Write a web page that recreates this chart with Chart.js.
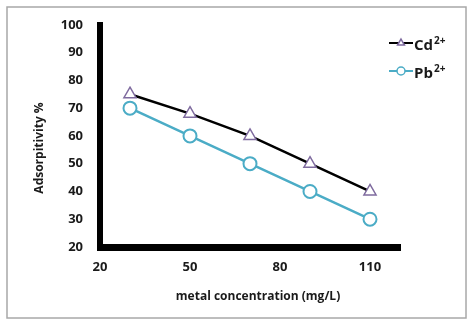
<!DOCTYPE html>
<html>
<head>
<meta charset="utf-8">
<script src="https://cdn.jsdelivr.net/npm/chart.js@4"></script>
<style>
  html, body { margin: 0; padding: 0; background: #ffffff; }
  #wrap { width: 474px; height: 329px; }
</style>
</head>
<body>
<div id="wrap"><canvas id="c" width="474" height="329"></canvas></div>
<script>
// ---- data ----
const concentrations = [30, 50, 70, 90, 110];
const cdValues = [75, 68, 60, 50, 40];
const pbValues = [70, 60, 50, 40, 30];
const seriesNames = ['Cd', 'Pb'];
const seriesCharges = ['2+', '2+'];
const xTickValues = [20, 50, 80, 110];
const yTickValues = [20, 30, 40, 50, 60, 70, 80, 90, 100];
const xTitle = 'metal concentration (mg/L)';
const yTitle = 'Adsorpitivity %';

const FONT = '"Open Sans", Lato, sans-serif';
const TEXT = '#1a1a1a';
const PURPLE = '#7f6b9f';
const AQUA = '#4BACC6';

const toPoints = (vals) => concentrations.map((x, i) => ({ x: x, y: vals[i] }));

const decorPlugin = {
  id: 'decor',
  beforeDraw(chart) {
    const ctx = chart.ctx;
    ctx.save();
    ctx.fillStyle = '#ffffff';
    ctx.fillRect(0, 0, chart.width, chart.height);
    ctx.strokeStyle = '#a8a8a8';
    ctx.lineWidth = 1.5;
    ctx.strokeRect(7, 7, 459, 311);
    ctx.restore();
  },
  afterDraw(chart) {
    const ctx = chart.ctx;
    ctx.save();
    ctx.fillStyle = TEXT;
    ctx.font = 'bold 12px ' + FONT;
    ctx.textAlign = 'center';
    ctx.textBaseline = 'middle';
    ctx.fillText(xTitle, 258, 297);
    ctx.translate(40, 148);
    ctx.rotate(-Math.PI / 2);
    ctx.fillText(yTitle, 0, 0);
    ctx.restore();

    // legend
    const rows = [43, 71];
    chart.data.datasets.forEach((ds, i) => {
      const y = rows[i];
      ctx.save();
      ctx.strokeStyle = ds.borderColor;
      ctx.lineWidth = 2;
      ctx.beginPath();
      ctx.moveTo(389, y);
      ctx.lineTo(413, y);
      ctx.stroke();
      ctx.fillStyle = '#ffffff';
      ctx.strokeStyle = ds.pointBorderColor;
      ctx.lineWidth = 1.5;
      Chart.helpers.drawPoint(ctx, { pointStyle: ds.pointStyle, radius: 4, rotation: 0, borderWidth: 1.5 }, 401, y);
      ctx.restore();

      ctx.save();
      ctx.fillStyle = TEXT;
      ctx.textBaseline = 'alphabetic';
      ctx.textAlign = 'left';
      ctx.font = 'bold 15px ' + FONT;
      const base = seriesNames[i];
      ctx.fillText(base, 414, y + 7);
      const w = ctx.measureText(base).width;
      ctx.font = 'bold 10px ' + FONT;
      ctx.fillText(seriesCharges[i], 414 + w + 1, y + 1);
      ctx.restore();
    });
  }
};

new Chart(document.getElementById('c'), {
  type: 'line',
  data: {
    datasets: [
      {
        label: 'Cd²⁺',
        data: toPoints(cdValues),
        borderColor: '#000000',
        borderWidth: 2.5,
        pointStyle: 'triangle',
        pointRadius: 7,
        pointBorderColor: PURPLE,
        pointBackgroundColor: '#ffffff',
        pointBorderWidth: 1.5,
        tension: 0
      },
      {
        label: 'Pb²⁺',
        data: toPoints(pbValues),
        borderColor: AQUA,
        borderWidth: 2.5,
        pointStyle: 'circle',
        pointRadius: 6.5,
        pointBorderColor: AQUA,
        pointBackgroundColor: '#ffffff',
        pointBorderWidth: 2,
        tension: 0
      }
    ]
  },
  options: {
    responsive: false,
    animation: false,
    devicePixelRatio: 1,
    layout: { padding: { top: 18, right: 74, left: 0, bottom: 0 } },
    plugins: { legend: { display: false }, tooltip: { enabled: false } },
    scales: {
      x: {
        type: 'linear',
        min: 20,
        max: 120,
        afterBuildTicks: (s) => { s.ticks = xTickValues.map(v => ({ value: v })); },
        afterFit: (s) => { s.height = 82; },
        grid: { display: false, drawTicks: false },
        border: { display: true, color: '#000000', width: 7 },
        ticks: { color: TEXT, font: { family: FONT, size: 13, weight: 'bold' }, padding: 12, maxRotation: 0 }
      },
      y: {
        type: 'linear',
        min: 20,
        max: 100,
        afterBuildTicks: (s) => { s.ticks = yTickValues.map(v => ({ value: v })); },
        afterFit: (s) => { s.width = 100; },
        grid: { display: false, drawTicks: false },
        border: { display: true, color: '#000000', width: 6 },
        ticks: { color: TEXT, font: { family: FONT, size: 13, weight: 'bold' }, padding: 17 }
      }
    }
  },
  plugins: [decorPlugin]
});
</script>
</body>
</html>
